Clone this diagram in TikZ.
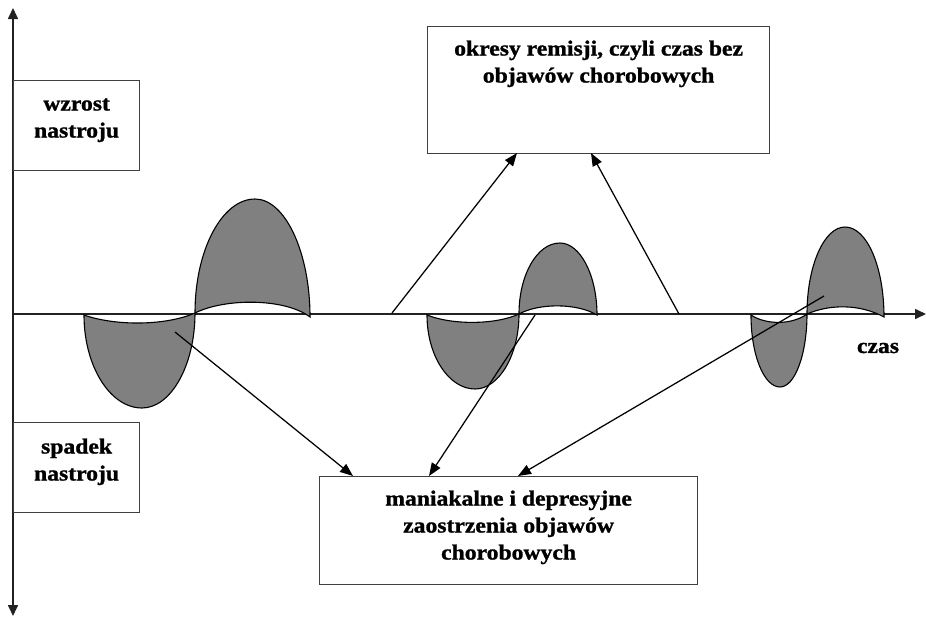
\documentclass[tikz,border=0pt]{standalone}
\usepackage{fontspec}
\setmainfont{Liberation Serif}[BoldFont={Liberation Serif Bold}, BoldFeatures={FakeStretch=1.1, FakeBold=1.2}, FakeStretch=1.1]
\usetikzlibrary{arrows.meta}
\definecolor{lobefill}{HTML}{808080}
\definecolor{boxline}{HTML}{404040}
\definecolor{axisline}{HTML}{222222}
\newcommand\boxtext[4]{\parbox[c][#2][t]{#1}{\centering\fontsize{21.5}{27}\selectfont\bfseries\vspace*{#3}\strut #4\par}}
\tikzset{
  box/.style={draw=boxline, line width=1.2pt, inner sep=0pt, anchor=north west, fill=white},
  lobe/.style={fill=lobefill, draw=black, line width=1.1pt},
  axis/.style={draw=axisline, line width=1.6pt},
  conn/.style={draw=black, line width=1.25pt, -{Triangle[length=13pt,width=10pt]}},
}
\begin{document}
\begin{tikzpicture}[x=1pt,y=-1pt]
\useasboundingbox (0,0) rectangle (926,616);
% axes
\coordinate (ax0) at (13,314);
\coordinate (axE) at (926,314);
\coordinate (ayT) at (13,8);
\coordinate (ayB) at (13,616);
\draw[axis, -{Triangle[length=11pt,width=10pt]}] (ax0) -- (axE);
\draw[axis, {Triangle[length=11pt,width=10pt]}-{Triangle[length=11pt,width=10pt]}] (ayB) -- (ayT);
% boxes
\node[box] (wz) at (13,80) {\boxtext{126pt}{90pt}{11pt}{wzrost\\nastroju}};
\node[box] (sp) at (13,422) {\boxtext{126pt}{90pt}{12pt}{spadek\\nastroju}};
\node[box] (okr) at (427,26) {\boxtext{342pt}{127pt}{10pt}{okresy remisji, czyli czas bez\\objawów chorobowych}};
\node[box] (man) at (319,476) {\boxtext{378pt}{108pt}{10pt}{maniakalne i depresyjne\\zaostrzenia objawów\\chorobowych}};
\node[inner sep=0pt, font=\fontsize{21.5}{27}\selectfont\bfseries] (czas) at (878,348) {czas};
% wave 1
\draw[lobe] (84,315) .. controls (115,326) and (165,326) .. (195,313)
  .. controls (195,365) and (171,408) .. (142,408)
  .. controls (110,408) and (84,366) .. (84,315) -- cycle;
\draw[lobe] (195,313) .. controls (195,250) and (222,199) .. (255,199)
  .. controls (285,199) and (310,252) .. (310,317)
  .. controls (285,298) and (225,298) .. (195,313) -- cycle;
% wave 2
\draw[lobe] (427,315) .. controls (452,325) and (495,325) .. (519,314)
  .. controls (519,355) and (499,389) .. (475,389)
  .. controls (449,389) and (427,356) .. (427,315) -- cycle;
\draw[lobe] (519,314) .. controls (519,275) and (537,243) .. (560,243)
  .. controls (580,243) and (597,275) .. (597,315)
  .. controls (577,303) and (539,303) .. (519,314) -- cycle;
% wave 3
\draw[lobe] (751,315) .. controls (766,325) and (792,325) .. (807,314)
  .. controls (807,354) and (795,387) .. (780,387)
  .. controls (764,387) and (751,355) .. (751,315) -- cycle;
\draw[lobe] (807,314) .. controls (807,266) and (824,227) .. (845,227)
  .. controls (867,227) and (884,267) .. (884,317)
  .. controls (860,304) and (830,304) .. (807,314) -- cycle;
% connector endpoints
\coordinate (s1) at (175,332);
\coordinate (s2) at (535,315);
\coordinate (s3) at (824,296);
\coordinate (s4) at (392,313);
\coordinate (s5) at (679,314);
\coordinate (m1) at (353,476);
\coordinate (m2) at (429,476);
\coordinate (m3) at (518,476);
\coordinate (o1) at (517,153);
\coordinate (o2) at (591,153);
\draw[conn] (s1) -- (m1);
\draw[conn] (s2) -- (m2);
\draw[conn] (s3) -- (m3);
\draw[conn] (s4) -- (o1);
\draw[conn] (s5) -- (o2);
\end{tikzpicture}
\end{document}
